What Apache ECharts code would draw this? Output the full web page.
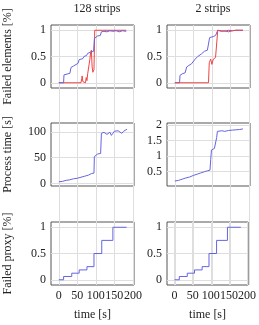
<!DOCTYPE html>
<html>
<head>
<meta charset="utf-8">
<script src="https://cdn.jsdelivr.net/npm/echarts@6/dist/echarts.min.js"></script>
<style>
  html, body { margin: 0; padding: 0; background: #fff; }
  #chart { width: 259px; height: 325px; }
</style>
</head>
<body>
<div id="chart"></div>
<script>
// tick labels
const timeTicks = [0, 50, 100, 150, 200];
const fractionTicks = [0, 0.5, 1];
const procTicks128 = [0, 50, 100];
const procTicks2 = [0.5, 1, 1.5, 2];

// failed elements, 128 strips
const fe128BlueT = [0, 13, 14, 30, 33, 40, 42, 52, 55, 65, 68, 75, 78, 85, 88, 94, 96, 100, 104, 112, 115, 122, 130, 138, 146, 155, 163, 172, 182];
const fe128BlueV = [0, 0, 0.15, 0.18, 0.29, 0.32, 0.35, 0.37, 0.44, 0.46, 0.5, 0.52, 0.56, 0.58, 0.6, 0.6, 0.84, 0.86, 0.89, 0.9, 0.97, 0.98, 0.97, 0.99, 0.98, 0.99, 0.97, 0.99, 0.98];
const fe128RedT = [0, 60, 62, 63, 65, 67, 72, 74, 76, 78, 81, 84, 86, 88, 90, 92, 95, 97, 100, 120, 140, 160, 182];
const fe128RedV = [0, 0, 0.08, 0.13, 0.02, 0, 0, 0.1, 0.04, 0.17, 0.2, 0.45, 0.58, 0.62, 0.3, 0.2, 0.25, 1, 1, 1, 1, 1, 1];

// failed elements, 2 strips
const fe2BlueT = [0, 13, 14, 20, 28, 32, 38, 45, 50, 55, 58, 62, 66, 72, 76, 80, 85, 88, 91, 94, 98, 104, 110, 113, 116, 125, 135, 145, 155, 165, 175, 184];
const fe2BlueV = [0, 0, 0.14, 0.17, 0.19, 0.3, 0.33, 0.36, 0.38, 0.45, 0.47, 0.5, 0.51, 0.55, 0.57, 0.6, 0.59, 0.62, 0.62, 0.86, 0.88, 0.88, 0.9, 0.9, 1.0, 0.99, 0.98, 1.0, 0.99, 1.0, 1.0, 1.0];
const fe2RedT = [0, 91, 93, 97, 100, 104, 110, 113, 116, 125, 135, 145, 155, 165, 175, 184];
const fe2RedV = [0, 0, 0.38, 0.45, 0.35, 0.45, 0.48, 0.5, 1.0, 0.98, 0.99, 0.97, 0.99, 1.0, 1.0, 1.0];

// process time
const proc128T = [0, 10, 20, 30, 40, 50, 60, 70, 80, 88, 95, 96, 98, 105, 110, 113, 115, 118, 122, 126, 130, 134, 138, 142, 146, 150, 155, 160, 165, 170, 175, 180, 184];
const proc128V = [3, 4, 6, 7, 9, 10, 12, 14, 16, 19, 20, 52, 55, 57, 56, 58, 97, 100, 99, 101, 95, 94, 99, 93, 97, 101, 100, 102, 99, 97, 101, 103, 105];
const proc2T = [0, 10, 20, 30, 40, 50, 60, 70, 80, 88, 95, 97, 99, 102, 107, 110, 113, 115, 117, 120, 127, 135, 145, 155, 165, 175, 184];
const proc2V = [0.2, 0.22, 0.26, 0.3, 0.33, 0.38, 0.42, 0.46, 0.5, 0.53, 0.55, 0.9, 1.2, 1.23, 1.25, 1.3, 1.6, 1.8, 1.85, 1.8, 1.82, 1.8, 1.83, 1.84, 1.85, 1.86, 1.88];

// failed proxy (steps)
const proxyT = [0, 13, 35, 55, 76, 95, 116, 146, 183];
const proxyV = [0, 0.0625, 0.125, 0.1875, 0.25, 0.5, 0.75, 1, 1];

const BLUE = '#6464e2';
const RED = '#ee4444';
const FONT = 'Liberation Serif';
const GRIDLINE = '#dedede';

const zip = (t, v) => t.map((x, i) => [x, v[i]]);

const colLeft = [51, 167];
const rowTop = [25, 123, 222];
const boxW = 83, boxH = 63;

const rows = [
  { name: 'Failed elements [%]', ranges: [[-0.1, 1.1, fractionTicks], [-0.1, 1.1, fractionTicks]] },
  { name: 'Process time [s]', ranges: [[-5, 117, procTicks128], [0.04, 2.07, procTicks2]] },
  { name: 'Failed proxy [%]', ranges: [[-0.1, 1.1, fractionTicks], [-0.1, 1.1, fractionTicks]] }
];

const grids = [], xAxes = [], yAxes = [], series = [];

// background column grids: vertical lines run through the gaps too
colLeft.forEach((left) => {
  const gi = grids.length;
  grids.push({ left: left, top: rowTop[0], width: boxW, height: rowTop[2] + boxH - rowTop[0] });
  xAxes.push({
    type: 'value', gridIndex: gi, min: -21, max: 203,
    axisLine: { show: false }, axisLabel: { show: false },
    axisTick: { show: false, customValues: timeTicks },
    splitLine: { show: true, lineStyle: { color: GRIDLINE, width: 1 } }
  });
  yAxes.push({ type: 'value', gridIndex: gi, min: 0, max: 1, show: false });
});

const panels = {};
rows.forEach((row, r) => {
  colLeft.forEach((left, c) => {
    const gi = grids.length;
    const [ymin, ymax, yticks] = row.ranges[c];
    grids.push({
      left: left, top: rowTop[r], width: boxW, height: boxH,
      show: true, borderColor: '#555', borderWidth: 1, backgroundColor: 'transparent'
    });
    xAxes.push({
      type: 'value', gridIndex: gi, min: -21, max: 203,
      name: r === 2 ? 'time [s]' : '', nameLocation: 'middle', nameGap: 24,
      nameTextStyle: { fontFamily: FONT, fontSize: 12, color: '#222' },
      axisLine: { show: false },
      axisTick: { show: false, customValues: timeTicks },
      axisLabel: { show: r === 2, customValues: timeTicks, fontFamily: FONT, fontSize: 12, color: '#222', margin: 5 },
      splitLine: { show: true, lineStyle: { color: GRIDLINE, width: 1 } }
    });
    yAxes.push({
      type: 'value', gridIndex: gi, min: ymin, max: ymax,
      name: c === 0 ? row.name : '', nameLocation: 'middle', nameGap: 37,
      nameTextStyle: { fontFamily: FONT, fontSize: 12, color: '#222' },
      axisLine: { show: false },
      axisTick: { show: false, customValues: yticks },
      axisLabel: { customValues: yticks, fontFamily: FONT, fontSize: 12, color: '#222', margin: 5 },
      splitLine: { show: true, lineStyle: { color: GRIDLINE, width: 1 } }
    });
    panels[r + '-' + c] = gi;
  });
});

function addLine(key, t, v, color, step) {
  const gi = panels[key];
  series.push({
    type: 'line', xAxisIndex: gi, yAxisIndex: gi,
    data: zip(t, v), step: step || false,
    showSymbol: false, animation: false,
    lineStyle: { color: color, width: 1 }
  });
}

addLine('0-0', fe128RedT, fe128RedV, RED);
addLine('0-0', fe128BlueT, fe128BlueV, BLUE);
addLine('0-1', fe2BlueT, fe2BlueV, BLUE);
addLine('0-1', fe2RedT, fe2RedV, RED);
addLine('1-0', proc128T, proc128V, BLUE);
addLine('1-1', proc2T, proc2V, BLUE);
addLine('2-0', proxyT, proxyV, BLUE, 'end');
addLine('2-1', proxyT, proxyV, BLUE, 'end');

const chart = echarts.init(document.getElementById('chart'));
chart.setOption({
  animation: false,
  title: [
    { text: '128 strips', left: 92, top: -2, textAlign: 'center', textStyle: { fontFamily: FONT, fontSize: 12, fontWeight: 'normal', color: '#222' } },
    { text: '2 strips', left: 208, top: -2, textAlign: 'center', textStyle: { fontFamily: FONT, fontSize: 12, fontWeight: 'normal', color: '#222' } }
  ],
  grid: grids,
  xAxis: xAxes,
  yAxis: yAxes,
  series: series
});
</script>
</body>
</html>
